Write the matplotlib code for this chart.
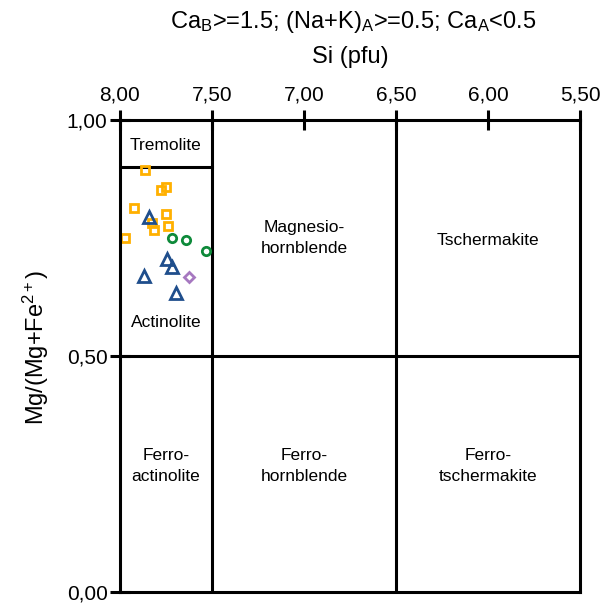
import matplotlib
matplotlib.use("Agg")
import matplotlib.pyplot as plt
from matplotlib.ticker import FuncFormatter

plt.rcParams['font.family'] = ['Liberation Sans', 'DejaVu Sans']
plt.rcParams['mathtext.fontset'] = 'custom'
plt.rcParams['mathtext.rm'] = 'Liberation Sans'
plt.rcParams['mathtext.it'] = 'Liberation Sans'

# Amphibole analyses: Si (pfu) and Mg/(Mg+Fe2+)
sq_si = [7.862, 7.778, 7.750, 7.924, 7.751, 7.826, 7.739, 7.813, 7.975]
sq_mg = [0.894, 0.852, 0.857, 0.814, 0.800, 0.781, 0.775, 0.766, 0.751]

tri_si = [7.844, 7.746, 7.720, 7.869, 7.695]
tri_mg = [0.795, 0.705, 0.689, 0.670, 0.633]

cir_si = [7.715, 7.639, 7.530]
cir_mg = [0.751, 0.746, 0.723]

dia_si = [7.624]
dia_mg = [0.667]

x_ticks = [8.0, 7.5, 7.0, 6.5, 6.0, 5.5]
y_ticks = [0.0, 0.5, 1.0]

# Field names and their label positions (Si, Mg#)
fields = ["Tremolite", "Actinolite", "Magnesio-\nhornblende", "Tschermakite",
          "Ferro-\nactinolite", "Ferro-\nhornblende", "Ferro-\ntschermakite"]
field_si = [7.75, 7.75, 7.0, 6.0, 7.75, 7.0, 6.0]
field_mg = [0.946, 0.57, 0.75, 0.744, 0.267, 0.267, 0.267]

fig = plt.figure(figsize=(6.03, 6.03), dpi=100)
ax = fig.add_axes([120/603, 1 - 592/603, 460/603, 472/603])

ax.set_xlim(8.0, 5.5)
ax.set_ylim(0.0, 1.0)

lw = 2.2
# Field boundaries
ax.axvline(7.5, color='black', lw=lw)
ax.axvline(6.5, color='black', lw=lw)
ax.axhline(0.5, color='black', lw=lw)
ax.plot([8.0, 7.5], [0.9, 0.9], color='black', lw=lw)

for s in ax.spines.values():
    s.set_linewidth(lw)

ms_kw = dict(linestyle='none', markerfacecolor='none', clip_on=False)
ax.plot(sq_si, sq_mg, marker='s', markersize=6, markeredgewidth=2.0,
        markeredgecolor='#FFB000', **ms_kw)
ax.plot(tri_si, tri_mg, marker='^', markersize=8, markeredgewidth=2.0,
        markeredgecolor='#1F4E8C', **ms_kw)
ax.plot(cir_si, cir_mg, marker='o', markersize=6, markeredgewidth=2.0,
        markeredgecolor='#0E8A3A', **ms_kw)
ax.plot(dia_si, dia_mg, marker='D', markersize=5.5, markeredgewidth=2.0,
        markeredgecolor='#A678C0', **ms_kw)

for name, xs, ys in zip(fields, field_si, field_mg):
    ax.text(xs, ys, name, ha='center', va='center', fontsize=12.5,
            linespacing=1.45)

comma = FuncFormatter(lambda v, p: f"{v:.2f}".replace('.', ','))
ax.xaxis.tick_top()
ax.set_xticks(x_ticks)
ax.set_yticks(y_ticks)
ax.xaxis.set_major_formatter(comma)
ax.yaxis.set_major_formatter(comma)
ax.tick_params(axis='both', direction='inout', length=14, width=lw,
               labelsize=15, pad=2)
ax.tick_params(axis='x', pad=4)

ax.set_ylabel(r'Mg/(Mg+Fe$^{2+}$)', fontsize=17)
ax.yaxis.set_label_coords(-(120 - 51) / 460, (592 - 347) / 472)

fig.text(353/603, 1 - 22/603,
         r'Ca$_\mathrm{B}$>=1.5; (Na+K)$_\mathrm{A}$>=0.5; Ca$_\mathrm{A}$<0.5',
         ha='center', va='center', fontsize=17)
fig.text(350/603, 1 - 57/603, 'Si (pfu)', ha='center', va='center', fontsize=17)

fig.savefig('out.png', dpi=100)
